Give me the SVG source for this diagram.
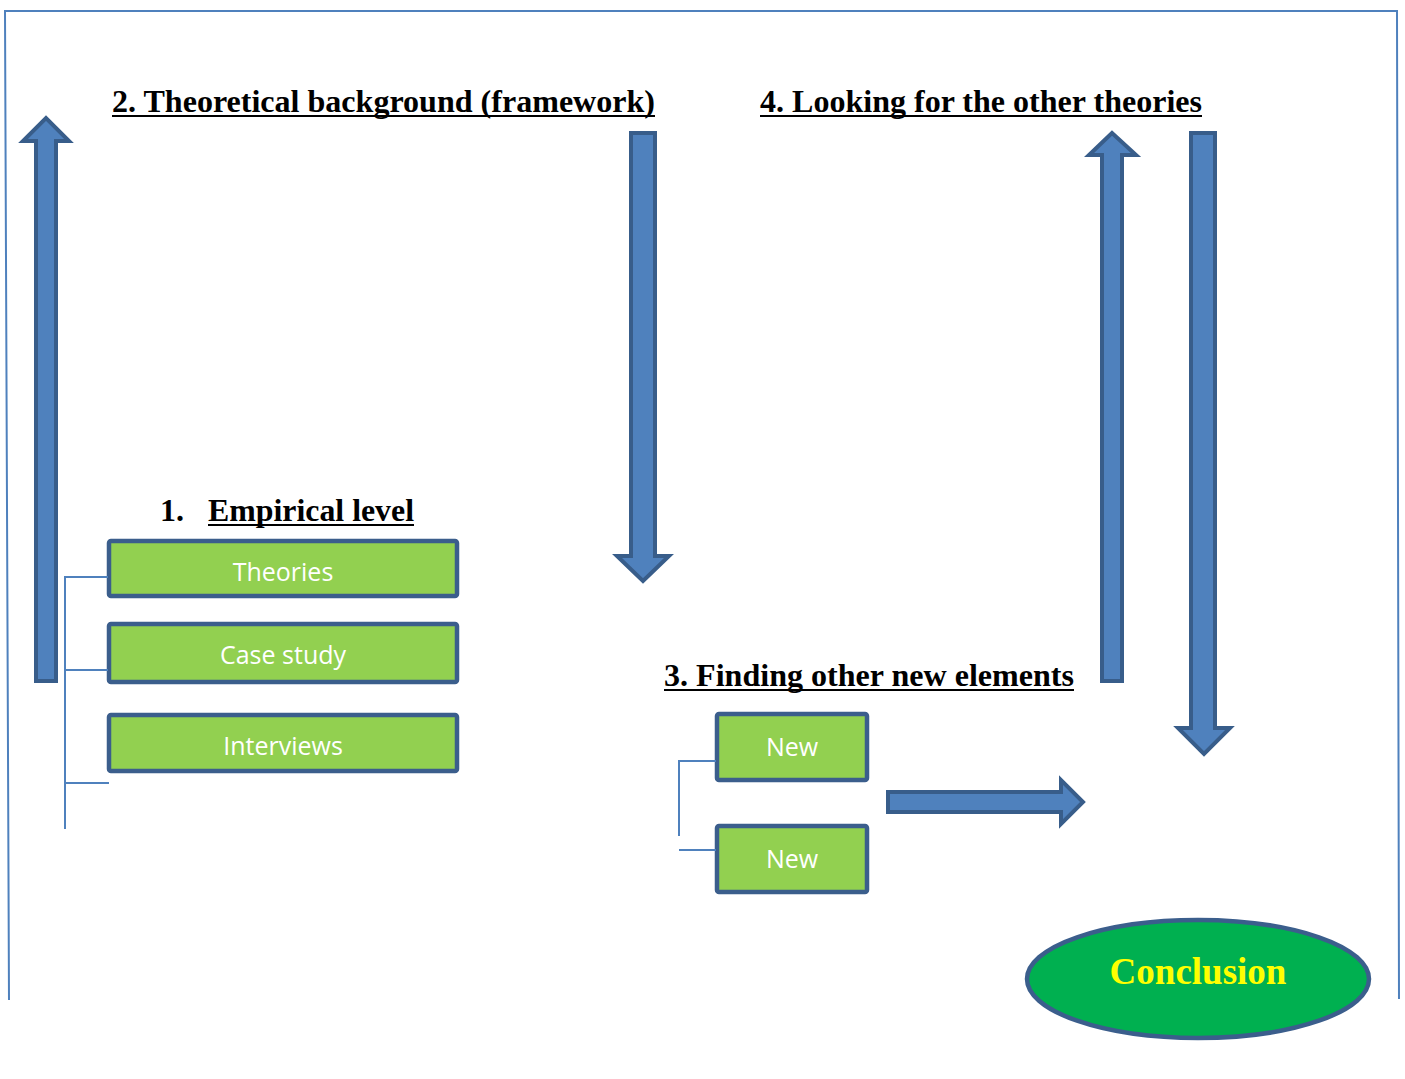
<svg xmlns="http://www.w3.org/2000/svg" width="1405" height="1079" viewBox="0 0 1405 1079">
  <style>
    .frame { fill: none; stroke: #4f81bd; stroke-width: 2; }
    .head { font-family: "Liberation Serif", "Times New Roman", serif; font-weight: bold; font-size: 32px; fill: #000; }
    .uline { stroke: #000; stroke-width: 2.2; }
    .box { fill: #92d050; stroke: #3b5e8c; stroke-width: 4.5; }
    .boxtext { font-family: "Open Sans", "Noto Sans", sans-serif; font-size: 25px; fill: #ffffff; text-anchor: middle; }
    .arrow { fill: #4f81bd; stroke: #385d8a; stroke-width: 4; stroke-linejoin: miter; }
    .link { fill: none; stroke: #4f81bd; stroke-width: 2; }
  </style>

  <!-- page frame (open at the bottom) -->
  <g id="frame">
    <path class="frame" d="M9,1000 L5,11 L1397,11 L1399,999"/>
  </g>

  <!-- headings -->
  <g id="heading-2">
    <text class="head" x="112" y="112" textLength="543" lengthAdjust="spacingAndGlyphs">2. Theoretical background (framework)</text>
    <line class="uline" x1="112" y1="116" x2="655" y2="116"/>
  </g>
  <g id="heading-4">
    <text class="head" x="760" y="112" textLength="442" lengthAdjust="spacingAndGlyphs">4. Looking for the other theories</text>
    <line class="uline" x1="760" y1="116" x2="1202" y2="116"/>
  </g>
  <g id="heading-1">
    <text class="head" x="160" y="521">1.</text>
    <text class="head" x="208" y="521" textLength="206" lengthAdjust="spacingAndGlyphs">Empirical level</text>
    <line class="uline" x1="208" y1="525" x2="414" y2="525"/>
  </g>
  <g id="heading-3">
    <text class="head" x="664" y="686" textLength="410" lengthAdjust="spacingAndGlyphs">3. Finding other new elements</text>
    <line class="uline" x1="664" y1="690" x2="1074" y2="690"/>
  </g>

  <!-- empirical level items -->
  <g id="node-theories">
    <rect class="box" x="109" y="541" width="348" height="55" rx="2"/>
    <text class="boxtext" x="283" y="581">Theories</text>
  </g>
  <g id="node-case-study">
    <rect class="box" x="109" y="624" width="348" height="58" rx="2"/>
    <text class="boxtext" x="283" y="664">Case study</text>
  </g>
  <g id="node-interviews">
    <rect class="box" x="109" y="715" width="348" height="56" rx="2"/>
    <text class="boxtext" x="283" y="755">Interviews</text>
  </g>

  <!-- new elements -->
  <g id="node-new-1">
    <rect class="box" x="717" y="714" width="150" height="66" rx="2"/>
    <text class="boxtext" x="792" y="756">New</text>
  </g>
  <g id="node-new-2">
    <rect class="box" x="717" y="826" width="150" height="66" rx="2"/>
    <text class="boxtext" x="792" y="868">New</text>
  </g>

  <!-- conclusion -->
  <g id="node-conclusion">
    <ellipse cx="1198" cy="979" rx="171" ry="59" fill="#00b050" stroke="#3b5e8c" stroke-width="4.5"/>
    <text x="1198" y="984" text-anchor="middle" font-family="Liberation Serif, Times New Roman, serif" font-weight="bold" font-size="37" fill="#ffff00">Conclusion</text>
  </g>

  <!-- connectors: tree lines and block arrows -->
  <g id="connectors">
    <path class="link" d="M108,577 L65,577 L65,829 M65,670 L108,670 M65,783 L109,783"/>
    <path class="link" d="M716,761 L679,761 L679,836 M679,850 L716,850"/>

    <path class="arrow" d="M36,681 L36,141 L23,141 L46,118 L69,141 L56,141 L56,681 Z"/>
    <path class="arrow" d="M631,133 L655,133 L655,556 L669,556 L643,581 L617,556 L631,556 Z"/>
    <path class="arrow" d="M1102,681 L1102,155 L1089,155 L1112,133 L1136,155 L1122,155 L1122,681 Z"/>
    <path class="arrow" d="M1191,133 L1215,133 L1215,728 L1230,728 L1204,754 L1178,728 L1191,728 Z"/>
    <path class="arrow" d="M888,792 L1061,792 L1061,780 L1083,802 L1061,824 L1061,812 L888,812 Z"/>
  </g>
</svg>
